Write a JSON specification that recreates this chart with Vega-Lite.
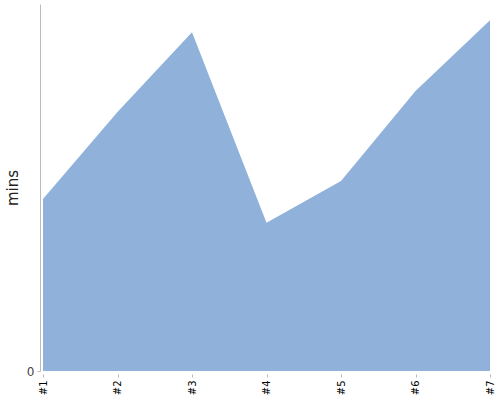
{
  "$schema": "https://vega.github.io/schema/vega-lite/v6.json",
  "autosize": "none",
  "padding": {"left": 43, "top": 4, "right": 10, "bottom": 29},
  "width": 447,
  "height": 367,
  "data": {
    "values": [
      {"run": "#1", "mins": 46.9},
      {"run": "#2", "mins": 70.6},
      {"run": "#3", "mins": 92.3},
      {"run": "#4", "mins": 40.4},
      {"run": "#5", "mins": 51.8},
      {"run": "#6", "mins": 76.3},
      {"run": "#7", "mins": 95.6}
    ]
  },
  "mark": {"type": "area", "color": "#8fb1da", "opacity": 1},
  "encoding": {
    "x": {
      "field": "run",
      "type": "ordinal",
      "scale": {"type": "point", "padding": 0},
      "axis": {
        "title": null,
        "labelAngle": -90,
        "labelAlign": "right",
        "labelBaseline": "middle",
        "labelFontSize": 10,
        "labelColor": "#000",
        "labelFont": "DejaVu Sans",
        "domain": false,
        "ticks": true,
        "tickSize": 3,
        "tickColor": "#bbb",
        "labelPadding": 3,
        "offset": 3
      }
    },
    "y": {
      "field": "mins",
      "type": "quantitative",
      "scale": {"domain": [0, 100], "nice": false},
      "axis": {
        "title": "mins",
        "titleFont": "DejaVu Sans",
        "titleFontSize": 15,
        "titleFontWeight": "normal",
        "titleColor": "#222",
        "titlePadding": 6,
        "values": [0],
        "labelFont": "DejaVu Sans",
        "labelFontSize": 12,
        "labelColor": "#444",
        "labelPadding": 3,
        "grid": false,
        "domainColor": "#bbb",
        "tickColor": "#bbb",
        "tickSize": 3,
        "offset": 3
      }
    }
  },
  "config": {"view": {"stroke": null}}
}
